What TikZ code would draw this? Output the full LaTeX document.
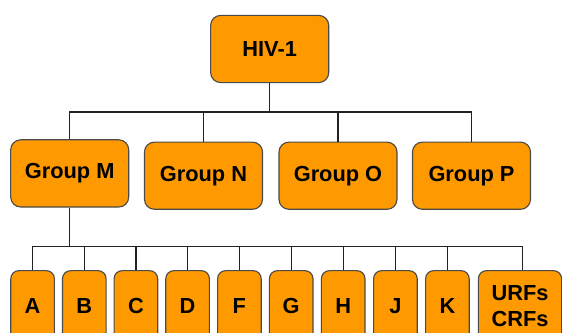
\documentclass[tikz,border=0pt]{standalone}
\usepackage{fontspec}
\setmainfont{Liberation Sans}
\definecolor{TreeOrange}{HTML}{FF9900}
\definecolor{TreeBorder}{HTML}{4A4A4A}
\definecolor{TreeLine}{HTML}{222222}
\usetikzlibrary{positioning, calc}
\tikzset{
    % Box styles with rounded corners
    clade/.style={
        rectangle,
        rounded corners=0.25cm,
        draw=TreeBorder,
        fill=TreeOrange,
        line width=0.8pt,
        minimum width=2.95cm,
        minimum height=1.68cm,
        inner sep=0pt,
        align=center,
        font=\fontsize{15.5}{18.5}\selectfont\bfseries
    },
    subtype/.style={
        clade,
        rounded corners=0.2cm,
        minimum width=1.09cm,
        minimum height=1.75cm
    },
    subtype wide/.style={
        subtype,
        minimum width=2.08cm
    },
    link style/.style={
        line width=0.9pt,
        TreeLine
    }
}

\begin{document}
\begin{tikzpicture}[x=0.025cm, y=-0.025cm]
        \useasboundingbox (0,0) rectangle (562,333);
        \clip (0,0) rectangle (562,333);

        % Top level
        \node[clade] (hiv) at (269.7, 49) {HIV-1};

        % Groups
        \node[clade] (group-m) at (69.7, 173.4) {Group M};
        \node[clade] (group-n) at (203.5, 175.7) {Group N};
        \node[clade] (group-o) at (338, 175.7) {Group O};
        \node[clade] (group-p) at (471.5, 175.7) {Group P};

        \coordinate (hiv-bar) at (269.7, 112);
        \draw[link style] (hiv.south) -- (hiv-bar);
        \draw[link style] (hiv-bar) -| (group-m.north);
        \draw[link style] (hiv-bar) -| (group-n.north);
        \draw[link style] (hiv-bar) -| (group-o.north);
        \draw[link style] (hiv-bar) -| (group-p.north);

        % Subtypes of group M
        \node[subtype] (sub-a) at (32.6, 305.7) {A};
        \node[subtype] (sub-b) at (84.3, 305.7) {B};
        \node[subtype] (sub-c) at (135.9, 305.7) {C};
        \node[subtype] (sub-d) at (187.6, 305.7) {D};
        \node[subtype] (sub-f) at (239.4, 305.7) {F};
        \node[subtype] (sub-g) at (291.2, 305.7) {G};
        \node[subtype] (sub-h) at (343.2, 305.7) {H};
        \node[subtype] (sub-j) at (395.4, 305.7) {J};
        \node[subtype] (sub-k) at (447.4, 305.7) {K};
        \node[subtype wide] (sub-rf) at (520, 305.7) {URFs\\CRFs};

        \coordinate (m-bar) at (69.7, 246.5);
        \draw[link style] (group-m.south) -- (m-bar);
        \draw[link style] (m-bar) -| (sub-a.north);
        \draw[link style] (m-bar) -| (sub-b.north);
        \draw[link style] (m-bar) -| (sub-c.north);
        \draw[link style] (m-bar) -| (sub-d.north);
        \draw[link style] (m-bar) -| (sub-f.north);
        \draw[link style] (m-bar) -| (sub-g.north);
        \draw[link style] (m-bar) -| (sub-h.north);
        \draw[link style] (m-bar) -| (sub-j.north);
        \draw[link style] (m-bar) -| (sub-k.north);
        \draw[link style] (m-bar) -| ([xshift=2.7*0.025cm]sub-rf.north);
    \end{tikzpicture}
\end{document}
